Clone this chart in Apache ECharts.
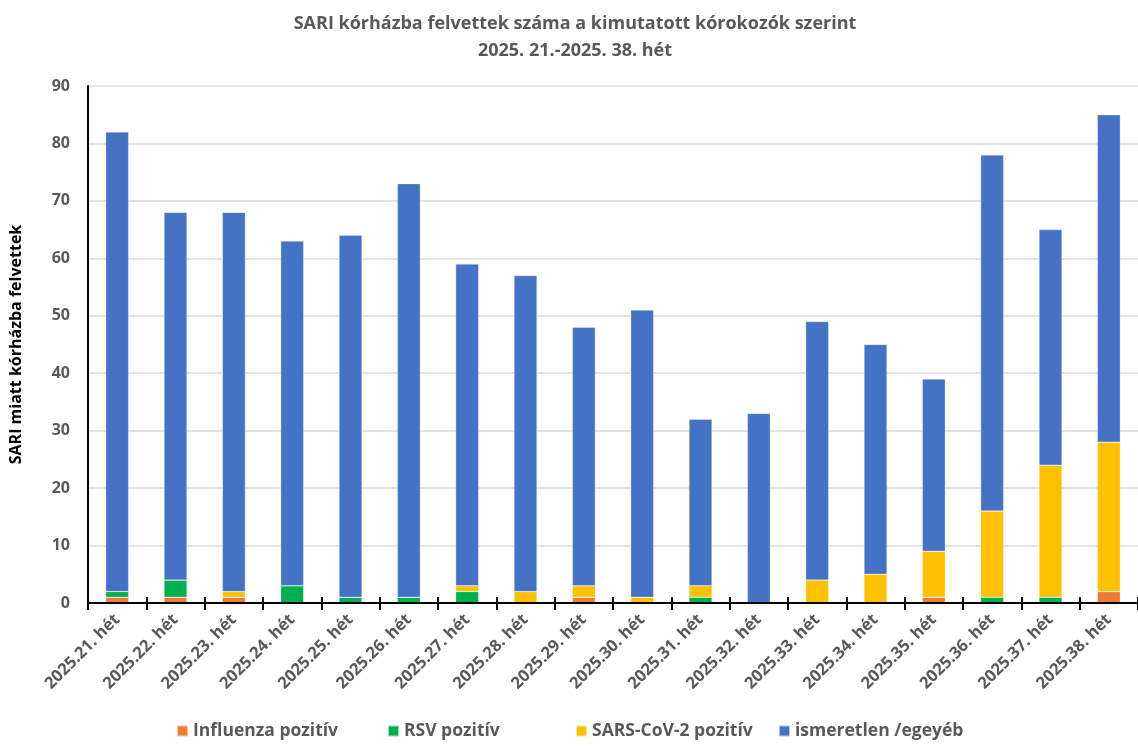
<!DOCTYPE html>
<html><head><meta charset="utf-8">
<script src="https://cdn.jsdelivr.net/npm/echarts@6/dist/echarts.min.js"></script>
<style>html,body{margin:0;padding:0;background:#fff}#c{width:1138px;height:746px}</style>
</head><body><div id="c"></div>
<script>
const categories = ['2025.21. hét','2025.22. hét','2025.23. hét','2025.24. hét','2025.25. hét','2025.26. hét','2025.27. hét','2025.28. hét','2025.29. hét','2025.30. hét','2025.31. hét','2025.32. hét','2025.33. hét','2025.34. hét','2025.35. hét','2025.36. hét','2025.37. hét','2025.38. hét'];
const influenza = [1,1,1,0,0,0,0,0,1,0,0,0,0,0,1,0,0,2];
const rsv       = [1,3,0,3,1,1,2,0,0,0,1,0,0,0,0,1,1,0];
const sars      = [0,0,1,0,0,0,1,2,2,1,2,0,4,5,8,15,23,26];
const unknown   = [80,64,66,60,63,72,56,55,45,50,29,33,45,40,30,62,41,57];
const yTicks = [0,10,20,30,40,50,60,70,80,90];
const seriesNames = ['Influenza pozitív','RSV pozitív','SARS-CoV-2 pozitív','ismeretlen /egeyéb'];

const FONT = "'Open Sans', 'Noto Sans', sans-serif";
const gray = '#595959';
function s(name, data, color){
  return {name, type:'bar', stack:'a', data, barWidth:23,
    itemStyle:{color, borderColor:'rgba(255,255,255,0.6)', borderWidth:0.5}};
}
const legendLeft = [176, 387, 575, 778];
const chart = echarts.init(document.getElementById('c'));
chart.setOption({
  animation:false,
  title:{text:'SARI kórházba felvettek száma a kimutatott kórokozók szerint\n2025. 21.-2025. 38. hét',
    left:570, textAlign:'center', top:5,
    textStyle:{fontFamily:FONT, fontSize:18, fontWeight:'bold', color:gray, lineHeight:27}},
  legend: seriesNames.map((n,i)=>({data:[n], left:legendLeft[i], top:722, padding:0, itemWidth:11, itemHeight:11, icon:'rect',
    selectedMode:false,
    textStyle:{fontFamily:FONT, fontSize:17.5, fontWeight:'bold', color:gray}})),
  grid:{left:88, top:86, width:1056, height:517, containLabel:false},
  xAxis:[{type:'category', data:categories, z:10,
    axisLine:{show:true, onZero:false, lineStyle:{color:'#000', width:2}},
    axisTick:{show:true, interval:0, alignWithLabel:false, length:7, lineStyle:{color:'#000', width:2}},
    axisLabel:{rotate:45, interval:0, fontFamily:FONT, fontSize:16.5, fontWeight:'bold', color:gray, margin:14}},
   {type:'category', data:categories, position:'bottom', z:10,
    axisLine:{show:false, onZero:false}, axisTick:{show:true, interval:0, inside:true, length:6, lineStyle:{color:'#000', width:2}},
    axisLabel:{show:false}}],
  yAxis:{type:'value', min:0, max:90, interval:10,
    name:'SARI miatt kórházba felvettek', nameLocation:'middle', nameGap:64, nameRotate:90,
    nameTextStyle:{fontFamily:FONT, fontSize:16, fontWeight:'bold', color:'#000'},
    axisLine:{show:true, lineStyle:{color:'#000', width:2}},
    axisTick:{show:false},
    axisLabel:{fontFamily:FONT, fontSize:16, fontWeight:'bold', color:gray, margin:18,
      formatter:v=>yTicks.includes(v)?String(v):''},
    splitLine:{lineStyle:{color:'#d9d9d9', width:1.5}}},
  series:[
    s(seriesNames[0], influenza, '#ED7D31'),
    s(seriesNames[1], rsv, '#00B050'),
    s(seriesNames[2], sars, '#FFC000'),
    s(seriesNames[3], unknown, '#4472C4')
  ]
});
</script></body></html>
